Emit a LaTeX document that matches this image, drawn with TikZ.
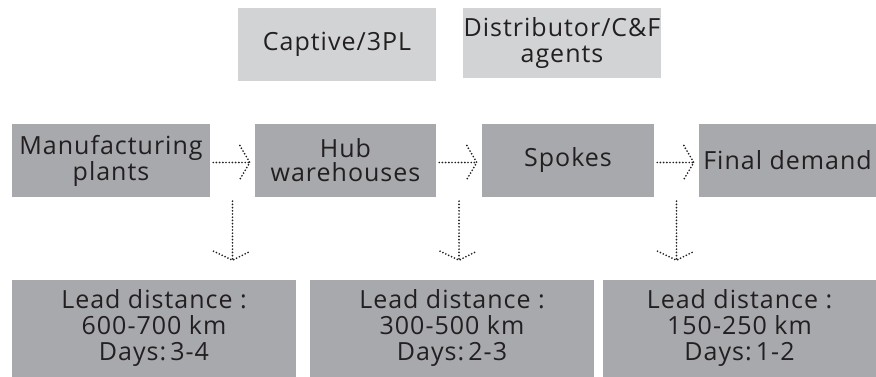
\documentclass[tikz,border=0pt]{standalone}
\usepackage{fontspec}
\setmainfont[LetterSpace=4]{Open Sans}
\usepackage{xcolor}
\usepackage{tikz}
\usetikzlibrary{positioning,calc}

\definecolor{boxlight}{HTML}{D1D3D4}
\definecolor{boxdark}{HTML}{A7A9AC}
\definecolor{ink}{HTML}{231F20}

\begin{document}
\begin{tikzpicture}[x=1pt, y=-1pt,
    box/.style={fill=boxdark, inner sep=0, align=center, text=ink,
        font=\fontsize{25}{24}\selectfont},
    topbox/.style={box, fill=boxlight, font=\fontsize{25}{26}\selectfont},
    leadbox/.style={box, minimum height=97, font=\fontsize{25}{26}\selectfont},
    dotline/.style={draw=ink, line width=1.9pt, line cap=round, dash pattern=on 0pt off 3.2pt}]
    \useasboundingbox (0,0) rectangle (876,377);

    % Top boxes
    \node [topbox, minimum width=198, minimum height=73] (cap) at (337,44.5) {Captive/3PL};
    \node [topbox, minimum width=198, minimum height=70] (dist) at (562,43) {Distributor/C\&F\\agents};

    % Chain
    \node [box, minimum width=198, minimum height=73] (mfg) at (111,160.5) {Manufacturing\\plants};
    \node [box, minimum width=181, minimum height=73] (hub) at (345.5,160.5) {Hub\\warehouses};
    \node [box, minimum width=172, minimum height=73] (spk) at (568,160.5) {Spokes};
    \node [box, minimum width=177, minimum height=73] (fin) at (787.5,160.5) {Final demand};

    % Lead boxes
    \node [leadbox, minimum width=284] (lead1) at (154,328.5) {Lead distance :\\600-700 km\\Days:\,3-4};
    \node [leadbox, minimum width=284] (lead2) at (452,328.5) {Lead distance :\\300-500 km\\Days:\,2-3};
    \node [leadbox, minimum width=273] (lead3) at (739.5,328.5) {Lead distance :\\150-250 km\\Days:\,1-2};

    % Flow arrows
    \foreach \a/\b/\n in {mfg/hub/1, hub/spk/2, spk/fin/3} {
        \coordinate (from\n) at ($(\a.east)+(3,2)$);
        \coordinate (to\n) at ($(\b.west)+(-5,2)$);
        \draw [dotline] (from\n) -- (to\n);
        \draw [dotline] ($(to\n)+(-10,-17)$) -- (to\n) -- ($(to\n)+(-10,17)$);
    }

    % Drop arrows
    \foreach \a/\b/\n in {mfg/hub/1, hub/spk/2, spk/fin/3} {
        \coordinate (drop\n) at ($(\a.south east)!0.5!(\b.south west)+(0,4)$);
        \coordinate (tip\n) at ($(drop\n)+(0,59)$);
        \draw [dotline] (drop\n) -- (tip\n);
        \draw [dotline] ($(tip\n)+(-19,-9)$) -- (tip\n) -- ($(tip\n)+(18,-9)$);
    }
\end{tikzpicture}
\end{document}
